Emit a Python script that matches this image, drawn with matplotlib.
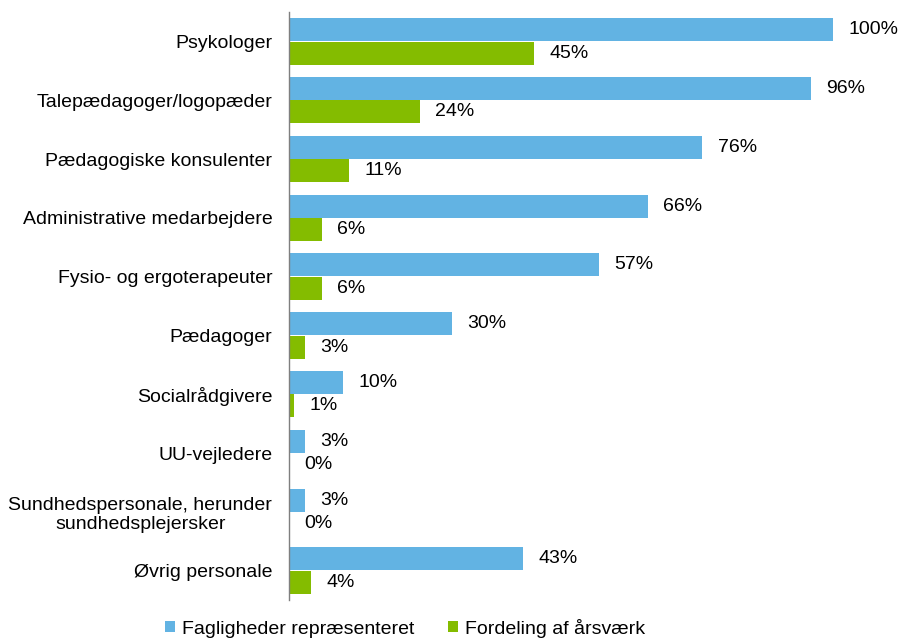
import matplotlib
matplotlib.use("Agg")
import matplotlib.pyplot as plt
import numpy as np

categories = ["Psykologer", "Talepædagoger/logopæder", "Pædagogiske konsulenter",
              "Administrative medarbejdere", "Fysio- og ergoterapeuter", "Pædagoger",
              "Socialrådgivere", "UU-vejledere",
              "Sundhedspersonale, herunder\nsundhedsplejersker", "Øvrig personale"]
fagligheder = [100, 96, 76, 66, 57, 30, 10, 3, 3, 43]
fordeling = [45, 24, 11, 6, 6, 3, 1, 0, 0, 4]
series_names = ["Fagligheder repræsenteret", "Fordeling af årsværk"]

plt.rcParams['font.family'] = ['Liberation Sans', 'DejaVu Sans']
blue = "#62B3E3"
green = "#84BC00"
fs = 14

fig = plt.figure(figsize=(8.99, 6.39), dpi=100)
ax = fig.add_axes([289/899, 39/639, 610/899, 588/639])

y = np.arange(len(categories))
h = 0.39
off = 0.2
b1 = ax.barh(y - off, fagligheder, height=h, color=blue, label=series_names[0])
b2 = ax.barh(y + off, fordeling, height=h, color=green, label=series_names[1])

for yy, v in zip(y - off, fagligheder):
    ax.annotate(f"{v}%", (v, yy), xytext=(11, 0), textcoords="offset points",
                va="center", ha="left", fontsize=fs)
for yy, v in zip(y + off, fordeling):
    ax.annotate(f"{v}%", (v, yy), xytext=(11, 0), textcoords="offset points",
                va="center", ha="left", fontsize=fs)

ax.set_xlim(0, 610/544*100)
ax.set_ylim(len(categories) - 0.5, -0.5)
ax.set_yticks(y)
ax.set_yticklabels(categories, fontsize=fs, multialignment="center")
ax.tick_params(axis="y", length=0, pad=12)
ax.xaxis.set_visible(False)
for s in ["top", "right", "bottom"]:
    ax.spines[s].set_visible(False)
ax.spines["left"].set_color("#7f7f7f")
ax.spines["left"].set_linewidth(1.0)

fig.legend(handles=[b1, b2], labels=series_names, loc="center", ncol=2,
           bbox_to_anchor=(405/899, 1 - 628/639), frameon=False, fontsize=fs,
           handlelength=0.55, handleheight=0.55, handletextpad=0.35, columnspacing=1.7)

fig.savefig("out.png", dpi=100)
